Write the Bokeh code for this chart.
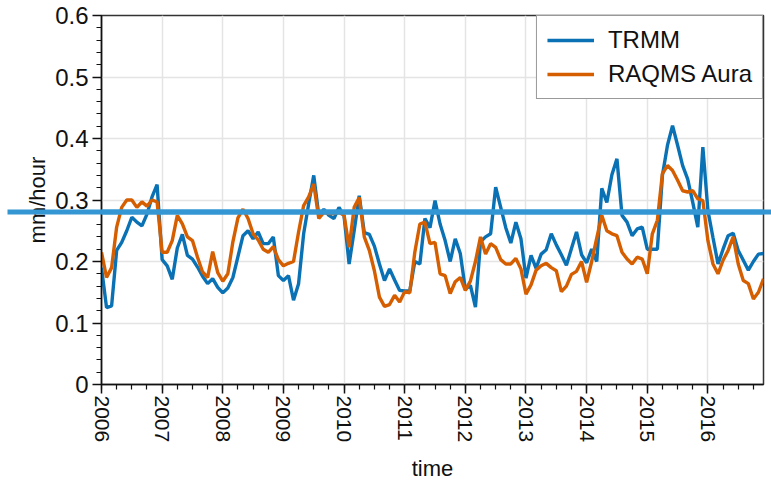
from bokeh.plotting import figure
from bokeh.models import (FixedTicker, Span, Label, Legend, LegendItem, Range1d)
from bokeh.embed import file_html
from bokeh.resources import INLINE

# ---- data (monthly, Jan 2006 .. Dec 2016) ----
start_year = 2006
year_ticks = list(range(2006, 2017))
y_ticks = [0, 0.1, 0.2, 0.3, 0.4, 0.5, 0.6]
y_minor_ticks = [i / 50 for i in range(31)]

trmm = [
    0.190, 0.125, 0.128, 0.218, 0.231, 0.250, 0.272, 0.264, 0.258, 0.277, 0.305, 0.325,  # 2006
    0.203, 0.193, 0.171, 0.222, 0.244, 0.210, 0.204, 0.191, 0.176, 0.164, 0.172, 0.158,  # 2007
    0.149, 0.157, 0.174, 0.208, 0.242, 0.250, 0.237, 0.248, 0.229, 0.229, 0.240, 0.177,  # 2008
    0.169, 0.177, 0.137, 0.164, 0.245, 0.294, 0.340, 0.275, 0.285, 0.275, 0.270, 0.288,  # 2009
    0.274, 0.196, 0.250, 0.307, 0.247, 0.244, 0.225, 0.196, 0.169, 0.188, 0.170, 0.153,  # 2010
    0.152, 0.152, 0.200, 0.196, 0.270, 0.255, 0.299, 0.261, 0.234, 0.200, 0.237, 0.213,  # 2011
    0.155, 0.161, 0.126, 0.232, 0.240, 0.245, 0.321, 0.288, 0.255, 0.230, 0.264, 0.237,  # 2012
    0.173, 0.210, 0.189, 0.212, 0.219, 0.245, 0.227, 0.211, 0.194, 0.221, 0.248, 0.211,  # 2013
    0.198, 0.220, 0.200, 0.319, 0.296, 0.341, 0.367, 0.275, 0.264, 0.242, 0.253, 0.256,  # 2014
    0.220, 0.220, 0.220, 0.340, 0.389, 0.421, 0.389, 0.356, 0.334, 0.296, 0.256, 0.386,  # 2015
    0.283, 0.239, 0.196, 0.220, 0.242, 0.246, 0.218, 0.202, 0.186, 0.200, 0.212, 0.213,  # 2016
]

raqms_aura = [
    0.215, 0.174, 0.190, 0.256, 0.288, 0.300, 0.300, 0.288, 0.297, 0.290, 0.300, 0.297,  # 2006
    0.215, 0.215, 0.234, 0.275, 0.261, 0.240, 0.234, 0.207, 0.183, 0.174, 0.216, 0.182,  # 2007
    0.168, 0.180, 0.232, 0.271, 0.285, 0.270, 0.245, 0.235, 0.220, 0.215, 0.224, 0.203,  # 2008
    0.193, 0.197, 0.200, 0.248, 0.291, 0.305, 0.326, 0.270, 0.280, 0.278, 0.278, 0.280,  # 2009
    0.275, 0.223, 0.288, 0.304, 0.240, 0.218, 0.185, 0.142, 0.127, 0.130, 0.145, 0.134,  # 2010
    0.151, 0.149, 0.215, 0.261, 0.264, 0.229, 0.231, 0.180, 0.177, 0.148, 0.167, 0.174,  # 2011
    0.153, 0.168, 0.200, 0.240, 0.212, 0.229, 0.223, 0.203, 0.196, 0.196, 0.205, 0.188,  # 2012
    0.147, 0.162, 0.186, 0.193, 0.197, 0.190, 0.185, 0.151, 0.160, 0.179, 0.184, 0.200,  # 2013
    0.166, 0.200, 0.238, 0.275, 0.250, 0.245, 0.242, 0.215, 0.204, 0.196, 0.207, 0.204,  # 2014
    0.180, 0.245, 0.267, 0.343, 0.356, 0.348, 0.332, 0.315, 0.313, 0.315, 0.302, 0.299,  # 2015
    0.234, 0.196, 0.180, 0.202, 0.218, 0.240, 0.196, 0.169, 0.164, 0.139, 0.150, 0.172,  # 2016
]

mean_level = 0.2805
series_names = ["TRMM", "RAQMS Aura"]
series_colors = ["#0a72b4", "#d55e00"]
mean_color = "#3497d4"

time = [start_year + i / 12.0 for i in range(len(trmm))]

FONT = "Liberation Sans"

p = figure(width=771, height=485, output_backend="svg", toolbar_location=None,
           x_range=Range1d(start_year, time[-1]), y_range=Range1d(0, 0.6),
           min_border_left=101, min_border_right=8, min_border_top=15,
           min_border_bottom=101)

p.background_fill_color = "white"
p.border_fill_color = "white"
p.outline_line_color = "#333333"
p.outline_line_width = 1.5

# axes
p.xaxis.ticker = FixedTicker(ticks=year_ticks,
                             minor_ticks=[start_year + q / 4 for q in range(44)])
p.yaxis.ticker = FixedTicker(ticks=y_ticks, minor_ticks=y_minor_ticks)
p.yaxis.major_label_overrides = {0: "0"}
p.xaxis.major_label_orientation = "vertical"

for ax in (p.xaxis, p.yaxis):
    ax.axis_line_color = "#111111"
    ax.axis_line_width = 1.5
    ax.major_tick_line_color = "#111111"
    ax.minor_tick_line_color = "#111111"
    ax.major_tick_line_width = 1.5
    ax.minor_tick_line_width = 1.2
    ax.major_tick_in = 0
    ax.major_tick_out = 9
    ax.minor_tick_in = 0
    ax.minor_tick_out = 5
    ax.major_label_text_font = FONT
    ax.major_label_text_font_size = "21px"
    ax.major_label_text_color = "#111111"
    ax.axis_label_text_font = FONT
    ax.axis_label_text_font_size = "22px"
    ax.axis_label_text_font_style = "normal"
    ax.axis_label_text_color = "#111111"

p.yaxis.major_label_text_font_size = "24px"
p.yaxis.major_label_standoff = 4
p.xaxis.major_label_standoff = 2
p.xaxis.axis_label = "time"
p.yaxis.axis_label = "mm/hour"
p.xaxis.axis_label_standoff = 11
p.yaxis.axis_label_standoff = 2

p.grid.grid_line_color = "#e4e4e4"
p.grid.grid_line_width = 1.5

r1 = p.line(time, trmm, line_color=series_colors[0], line_width=3.4)
r2 = p.line(time, raqms_aura, line_color=series_colors[1], line_width=3.4)

legend = Legend(items=[LegendItem(label=series_names[0], renderers=[r1]),
                       LegendItem(label=series_names[1], renderers=[r2])],
                location="top_right", margin=0, padding=10,
                glyph_width=47, glyph_height=28, label_height=28,
                label_standoff=14, spacing=6,
                label_text_font=FONT, label_text_font_size="24px",
                label_text_color="#111111",
                border_line_color="#333333", border_line_width=1.5,
                background_fill_alpha=1.0)
p.add_layout(legend)

# reference level line inside the frame
p.add_layout(Span(location=mean_level, dimension="width",
                  line_color=mean_color, line_width=5))

# same level line continued across the whole canvas width (side-panel label box)
ext = Label(x=7, x_units="canvas", y=mean_level, y_units="data", text=" ",
            text_align="left", text_baseline="middle", text_font_size="1px",
            padding=dict(left=0, right=764, top=2, bottom=2),
            background_fill_color=mean_color, background_fill_alpha=1.0,
            border_line_alpha=0)
p.add_layout(ext, "above")

open("out.html", "w").write(file_html(p, INLINE))
